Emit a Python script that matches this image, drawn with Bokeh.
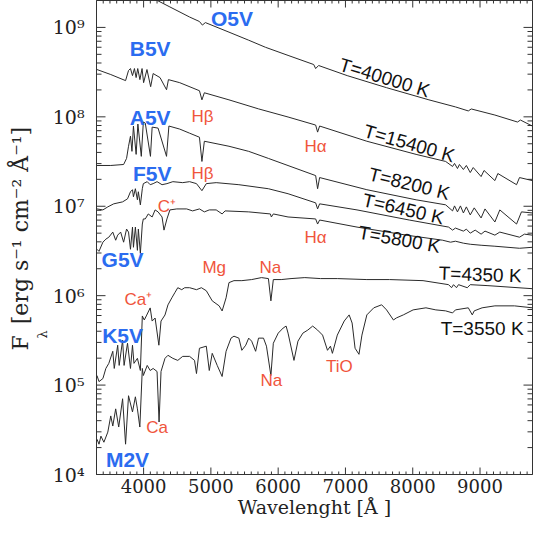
import numpy as np
from bokeh.plotting import figure
from bokeh.models import (SingleIntervalTicker, LogTicker, CustomJSTickFormatter, Range1d, Title)
from bokeh.core.properties import value
from bokeh.embed import file_html
from bokeh.resources import INLINE

# ---------------- spectra: wavelength [A] and log10 flux [erg s^-1 cm^-2 A^-1] ----------------
o5v_wl = [3307, 3805, 4215, 4391, 4684, 4830, 4874, 4918, 5269, 5562, 5811, 6147, 6528, 6557,
          6601, 7026, 7611, 8241, 8635, 8826, 8870, 9221, 9557, 9601, 9777]
o5v_logf = [9.681, 9.466, 9.297, 9.229, 9.116, 9.066, 9.026, 9.054, 8.947, 8.857, 8.778, 8.687,
            8.585, 8.540, 8.574, 8.461, 8.326, 8.190, 8.111, 8.066, 8.088, 8.020, 7.942, 7.964, 7.897]

b5v_wl = [3307, 3512, 3732, 3776, 3805, 3835, 3864, 3889, 3913, 3945, 3977, 4000, 4050, 4105,
          4142, 4244, 4341, 4369, 4537, 4830, 4867, 4903, 5269, 5708, 6147, 6557, 6586, 6616,
          7318, 8050, 8489, 8592, 8621, 8665, 8694, 8753, 8797, 8855, 8899, 9016, 9060, 9221,
          9265, 9543, 9587, 9777]
b5v_logf = [8.529, 8.473, 8.405, 8.518, 8.540, 8.461, 8.540, 8.439, 8.540, 8.416, 8.540, 8.382,
            8.529, 8.337, 8.484, 8.439, 8.303, 8.416, 8.382, 8.292, 8.190, 8.269, 8.190, 8.089,
            7.998, 7.908, 7.829, 7.897, 7.727, 7.580, 7.501, 7.445, 7.479, 7.422, 7.467, 7.411,
            7.456, 7.377, 7.433, 7.332, 7.400, 7.287, 7.366, 7.241, 7.321, 7.287]

a5v_wl = [3307, 3512, 3703, 3747, 3776, 3805, 3827, 3849, 3889, 3915, 3966, 3996, 4025, 4102,
          4127, 4215, 4341, 4376, 4537, 4684, 4830, 4867, 4903, 5269, 5562, 5855, 6557, 6586,
          6616, 7318, 8050, 8489, 8592, 8621, 8665, 8709, 8753, 8797, 8855, 8914, 9016, 9074,
          9221, 9294, 9543, 9616, 9777]
a5v_logf = [7.456, 7.456, 7.467, 7.535, 7.671, 7.784, 7.614, 7.897, 7.580, 7.919, 7.558, 7.942,
            7.930, 7.558, 7.885, 7.874, 7.558, 7.897, 7.863, 7.817, 7.772, 7.501, 7.727, 7.671,
            7.614, 7.535, 7.343, 7.196, 7.321, 7.185, 7.072, 7.016, 6.948, 7.004, 6.937, 7.004,
            6.925, 6.993, 6.903, 6.982, 6.869, 6.970, 6.824, 6.959, 6.801, 6.937, 6.925]

f5v_wl = [3307, 3395, 3468, 3556, 3688, 3761, 3805, 3835, 3849, 3878, 3908, 3922, 3952, 3981,
          3996, 4054, 4098, 4142, 4200, 4274, 4347, 4435, 4581, 4684, 4786, 4867, 4932, 5079,
          5416, 5855, 6147, 6557, 6586, 6616, 7172, 7948, 8533, 8592, 8635, 8753, 8797, 8855,
          8928, 9016, 9074, 9221, 9294, 9587, 9660, 9777]
f5v_logf = [6.970, 6.959, 6.993, 7.027, 7.049, 7.083, 7.162, 7.185, 7.106, 7.196, 7.072, 7.162,
            7.015, 7.196, 7.253, 7.275, 7.241, 7.253, 7.275, 7.241, 7.253, 7.275, 7.264, 7.275,
            7.253, 7.174, 7.253, 7.264, 7.241, 7.196, 7.140, 7.038, 6.970, 7.027, 6.959, 6.846,
            6.767, 6.733, 6.756, 6.722, 6.744, 6.699, 6.733, 6.688, 6.722, 6.677, 6.711, 6.654,
            6.688, 6.677]

g5v_wl = [3307, 3337, 3395, 3439, 3483, 3542, 3585, 3615, 3659, 3703, 3747, 3776, 3805, 3835,
          3849, 3878, 3908, 3922, 3952, 3981, 3996, 4025, 4069, 4127, 4171, 4215, 4274, 4303,
          4347, 4391, 4493, 4640, 4728, 4830, 4903, 4976, 5079, 5167, 5211, 5562, 5884, 5899,
          5928, 6147, 6557, 6586, 6616, 7172, 7904, 8445, 8562, 8635, 8753, 8855, 9016, 9221,
          9587, 9777]
g5v_logf = [6.519, 6.496, 6.598, 6.632, 6.654, 6.711, 6.620, 6.677, 6.711, 6.598, 6.745, 6.711,
            6.519, 6.767, 6.541, 6.767, 6.507, 6.745, 6.473, 6.801, 6.858, 6.858, 6.914, 6.880,
            6.959, 6.937, 6.880, 6.733, 6.858, 6.959, 6.970, 6.970, 6.948, 6.970, 6.937, 6.959,
            6.959, 6.914, 6.948, 6.937, 6.914, 6.880, 6.914, 6.880, 6.858, 6.801, 6.846, 6.767,
            6.677, 6.620, 6.598, 6.609, 6.587, 6.575, 6.564, 6.553, 6.530, 6.541]

k5v_wl = [3307, 3337, 3395, 3439, 3483, 3542, 3564, 3615, 3637, 3688, 3710, 3761, 3805, 3835,
          3857, 3908, 3952, 3981, 4010, 4040, 4098, 4127, 4171, 4227, 4259, 4318, 4362, 4420,
          4464, 4508, 4567, 4611, 4684, 4786, 4859, 4932, 5020, 5123, 5167, 5226, 5269, 5343,
          5460, 5606, 5752, 5855, 5892, 5928, 6045, 6191, 6396, 6630, 6879, 7318, 7655, 8153,
          8533, 8577, 8606, 8650, 8680, 8811, 8855, 9118, 9777]
k5v_logf = [5.107, 5.039, 5.073, 5.186, 5.243, 5.378, 5.186, 5.446, 5.220, 5.502, 5.220, 5.468,
            5.186, 5.446, 5.243, 5.299, 5.163, 5.773, 5.728, 5.773, 5.863, 5.716, 5.750, 5.446,
            5.716, 5.784, 5.897, 5.976, 6.033, 6.089, 6.067, 6.089, 6.089, 6.067, 6.089, 6.055,
            5.942, 5.886, 5.829, 5.976, 6.146, 6.168, 6.168, 6.180, 6.202, 6.191, 5.942, 6.180,
            6.180, 6.191, 6.202, 6.191, 6.191, 6.180, 6.180, 6.168, 6.123, 6.089, 6.123, 6.089,
            6.123, 6.089, 6.123, 6.112, 6.078]

m2v_wl = [3307, 3337, 3366, 3410, 3468, 3512, 3542, 3585, 3630, 3688, 3732, 3776, 3835, 3878,
          3908, 3944, 3981, 3996, 4054, 4098, 4142, 4200, 4230, 4259, 4318, 4362, 4435, 4508,
          4581, 4684, 4757, 4786, 4830, 4932, 4976, 5020, 5094, 5167, 5226, 5299, 5343, 5416,
          5460, 5518, 5562, 5606, 5665, 5708, 5782, 5826, 5892, 5928, 6001, 6074, 6118, 6147,
          6235, 6294, 6367, 6440, 6513, 6586, 6660, 6733, 6777, 6806, 6879, 6982, 7055, 7099,
          7143, 7201, 7245, 7318, 7421, 7538, 7611, 7713, 7757, 7860, 8006, 8196, 8343, 8489,
          8592, 8635, 8826, 8885, 8914, 9031, 9221, 9513, 9777]
m2v_logf = [4.395, 4.339, 4.429, 4.361, 4.474, 4.655, 4.542, 4.734, 4.531, 4.847, 4.339, 4.881,
            4.700, 4.869, 4.734, 4.531, 5.186, 5.107, 5.220, 5.163, 5.186, 5.152, 4.587, 5.152,
            5.299, 5.333, 5.299, 5.276, 5.321, 5.321, 5.276, 5.129, 5.412, 5.435, 5.163, 5.355,
            5.220, 5.096, 5.378, 5.525, 5.547, 5.525, 5.389, 5.446, 5.525, 5.491, 5.378, 5.525,
            5.525, 5.435, 5.107, 5.468, 5.581, 5.638, 5.660, 5.581, 5.276, 5.491, 5.581, 5.615,
            5.660, 5.615, 5.559, 5.389, 5.435, 5.355, 5.559, 5.717, 5.785, 5.694, 5.412, 5.344,
            5.559, 5.785, 5.864, 5.898, 5.841, 5.728, 5.751, 5.785, 5.841, 5.864, 5.841, 5.830,
            5.807, 5.841, 5.864, 5.785, 5.830, 5.864, 5.886, 5.886, 5.864]

# ---------------- annotations ----------------
star_names = ["O5V", "B5V", "A5V", "F5V", "G5V", "K5V", "M2V"]
star_wl = [5313, 4098, 4098, 4127, 3688, 3688, 3761]
star_logf = [9.105, 8.766, 7.998, 7.366, 6.406, 5.559, 4.169]

line_names = ["H\u03b2", "H\u03b2", "C\u207a", "H\u03b1", "H\u03b1", "Mg", "Na", "Ca\u207a", "Ca", "Na", "TiO"]
line_wl = [4874, 4874, 4347, 6557, 6557, 5050, 5884, 3922, 4200, 5899, 6908]
line_logf = [8.009, 7.366, 6.993, 7.671, 6.654, 6.315, 6.315, 5.954, 4.531, 5.050, 5.208]

temp_names = ["T=40000 K", "T=15400 K", "T=8200 K", "T=6450 K", "T=5800 K", "T=4350 K", "T=3550 K"]
temp_wl = [7582, 7948, 7948, 7860, 7801, 9002, 9031]
temp_logf = [8.438, 7.704, 7.253, 6.970, 6.631, 6.236, 5.637]
temp_angle_deg = [-17, -16, -14, -13, -10, -2, 0]

x_start, x_end = 3300, 9780
y_start, y_end = 1e4, 2e9

# tick positions (axis decoration)
x_major_ticks = [4000, 5000, 6000, 7000, 8000, 9000]
x_minor_ticks = [t for t in range(3300, 9800, 100) if t % 1000 != 0]
y_major_ticks = [1e4, 1e5, 1e6, 1e7, 1e8, 1e9]
y_minor_ticks = [k * 10.0 ** n for n in range(4, 10) for k in range(2, 10) if k * 10.0 ** n <= y_end]

BLUE = "#2b6cf0"
RED = "#f0553c"
SERIF = "DejaVu Serif"
SANS = "Liberation Sans"
INK = "#333333"

p = figure(width=533, height=520, x_range=Range1d(x_start, x_end), y_range=Range1d(y_start, y_end),
           y_axis_type="log", output_backend="svg", toolbar_location=None,
           min_border_left=96, min_border_right=1, min_border_top=0, min_border_bottom=0,
           background_fill_color="white", border_fill_color="white")
p.xgrid.visible = False
p.ygrid.visible = False
p.outline_line_color = INK
p.outline_line_width = 1

xa = p.xaxis[0]
xa.ticker = SingleIntervalTicker(interval=1000, num_minor_ticks=0)
xa.axis_line_color = INK
xa.major_tick_in = 0
xa.major_tick_out = 0
xa.minor_tick_in = 0
xa.minor_tick_out = 0
xa.major_label_text_font = SERIF
xa.major_label_text_font_size = "18px"
xa.major_label_text_color = "#222222"
xa.major_label_standoff = 4
xa.axis_label = "Wavelenght [\u00c5 ]"
xa.axis_label_text_font = SERIF
xa.axis_label_text_font_size = "19px"
xa.axis_label_text_font_style = "normal"
xa.axis_label_text_color = "#222222"
xa.axis_label_standoff = 0

ya = p.yaxis[0]
ya.ticker = LogTicker(num_minor_ticks=0)
ya.axis_line_color = INK
ya.major_tick_in = 0
ya.major_tick_out = 0
ya.minor_tick_in = 0
ya.minor_tick_out = 0
ya.formatter = CustomJSTickFormatter(code="""
const sup = {'0':'\u2070','1':'\u00b9','2':'\u00b2','3':'\u00b3','4':'\u2074','5':'\u2075','6':'\u2076','7':'\u2077','8':'\u2078','9':'\u2079','-':'\u207b'};
const e = Math.round(Math.log10(tick));
return '10' + String(e).split('').map(c => sup[c]).join('');
""")
ya.major_label_text_font = SERIF
ya.major_label_text_font_size = "19px"
ya.major_label_text_color = "#222222"
ya.major_label_standoff = 12

# inward tick marks on all four sides
def ticks(xs, ys, length, angle):
    p.ray(x=xs, y=ys, length=length, length_units="screen", angle=angle,
          line_color=INK, line_width=1)

ticks([x_start] * len(y_major_ticks), y_major_ticks, 9, 0)
ticks([x_start] * len(y_minor_ticks), y_minor_ticks, 5, 0)
ticks([x_end] * len(y_major_ticks), y_major_ticks, 9, np.pi)
ticks([x_end] * len(y_minor_ticks), y_minor_ticks, 5, np.pi)
ticks(x_major_ticks, [y_start] * len(x_major_ticks), 7, np.pi / 2)
ticks(x_minor_ticks, [y_start] * len(x_minor_ticks), 3, np.pi / 2)
ticks(x_major_ticks, [y_end] * len(x_major_ticks), 7, -np.pi / 2)
ticks(x_minor_ticks, [y_end] * len(x_minor_ticks), 3, -np.pi / 2)

spectra = [(o5v_wl, o5v_logf), (b5v_wl, b5v_logf), (a5v_wl, a5v_logf), (f5v_wl, f5v_logf),
           (g5v_wl, g5v_logf), (k5v_wl, k5v_logf), (m2v_wl, m2v_logf)]
for wl, lf in spectra:
    p.line(wl, 10 ** np.array(lf), line_color="#2a2a2a", line_width=1.0)

p.text(x=star_wl, y=10 ** np.array(star_logf), text=star_names, text_color=BLUE,
       text_font=value(SANS), text_font_style="bold", text_font_size="21px",
       text_align="center", text_baseline="middle")
p.text(x=line_wl, y=10 ** np.array(line_logf), text=line_names, text_color=RED,
       text_font=value(SANS), text_font_size="17px", text_align="center", text_baseline="middle")
p.text(x=temp_wl, y=10 ** np.array(temp_logf), text=temp_names, text_color="#111111",
       text_font=value(SANS), text_font_size="19px", text_align="center", text_baseline="middle",
       angle=np.radians(temp_angle_deg))

# y-axis title: F with subscript lambda, stacked as titles in the left panel
t_sub = Title(text="\u03bb", align="left", offset=136, standoff=0,
              text_font=SERIF, text_font_size="13px", text_font_style="normal", text_color="#222222")
p.add_layout(t_sub, "left")
t_main = Title(text="F\u2002[erg s\u207b\u00b9 cm\u207b\u00b2 \u00c5\u207b\u00b9]", align="left",
               offset=124, standoff=0, text_font=SERIF, text_font_size="22px",
               text_font_style="normal", text_color="#222222")
p.add_layout(t_main, "left")

open("out.html", "w").write(file_html(p, INLINE))
